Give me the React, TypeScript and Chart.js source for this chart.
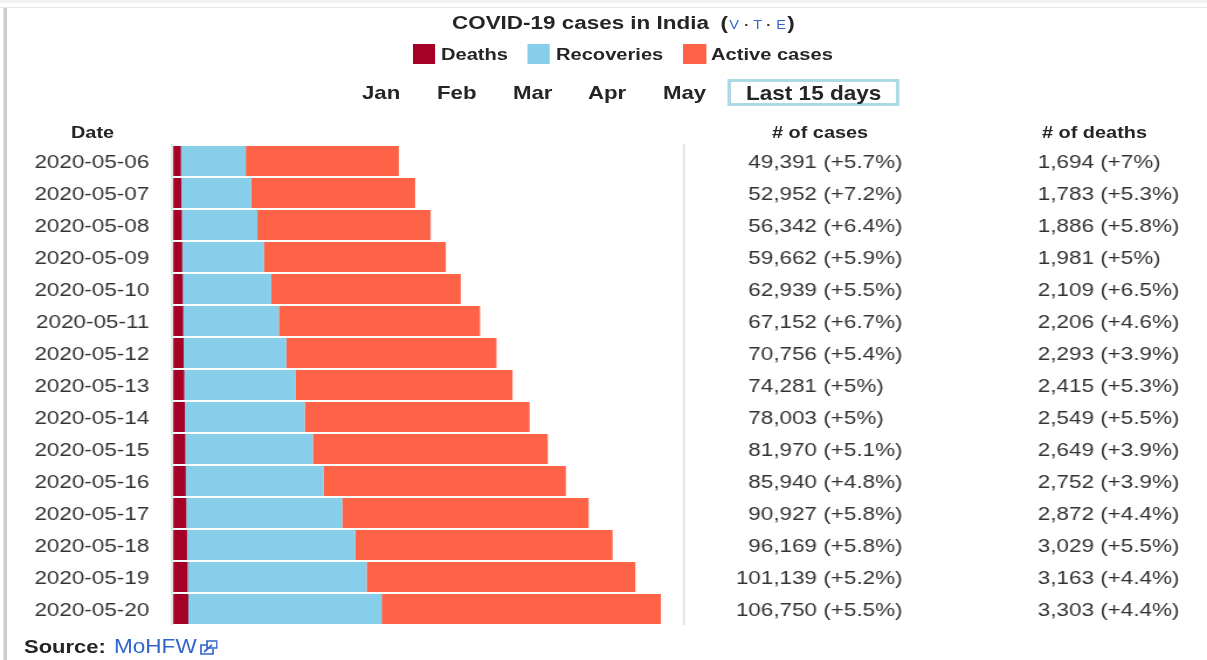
import React, { useEffect, useRef } from "react";
import { Chart, registerables } from "chart.js";

Chart.register(...registerables);

const dates = ["2020-05-06","2020-05-07","2020-05-08","2020-05-09","2020-05-10","2020-05-11","2020-05-12","2020-05-13","2020-05-14","2020-05-15","2020-05-16","2020-05-17","2020-05-18","2020-05-19","2020-05-20"];
const deaths = [1694,1783,1886,1981,2109,2206,2293,2415,2549,2649,2752,2872,3029,3163,3303];
const recoveries = [14183,15267,16540,17847,19358,20917,22455,24386,26235,27920,30153,34109,36824,39174,42298];
const activeCases = [33514,35902,37916,39834,41472,44029,46008,47480,49219,51401,53035,53946,56316,58802,61149];
const totalCases = [49391,52952,56342,59662,62939,67152,70756,74281,78003,81970,85940,90927,96169,101139,106750];
const casePct = ["+5.7%","+7.2%","+6.4%","+5.9%","+5.5%","+6.7%","+5.4%","+5%","+5%","+5.1%","+4.8%","+5.8%","+5.8%","+5.2%","+5.5%"];
const deathPct = ["+7%","+5.3%","+5.8%","+5%","+6.5%","+4.6%","+3.9%","+5.3%","+5.5%","+3.9%","+3.9%","+4.4%","+5.5%","+4.4%","+4.4%"];
const months = [["Jan", 362], ["Feb", 437], ["Mar", 513], ["Apr", 588], ["May", 663]] as const;

const FONT = '"Liberation Sans", Arial, sans-serif';
const INNER_W = 1032;
const S = 1207 / INNER_W;
const X = (px: number) => px / S;

const fmt = (n: number) => n.toLocaleString("en-US");

const columnsPlugin = {
  id: "columns",
  afterDraw(chart: any) {
    const { ctx, chartArea, scales } = chart;
    ctx.save();
    ctx.strokeStyle = "#cccccc";
    ctx.lineWidth = 1;
    ctx.beginPath();
    ctx.moveTo(chartArea.right, chartArea.top - 1);
    ctx.lineTo(chartArea.right, chartArea.bottom);
    ctx.moveTo(chartArea.left - X(1.2), chartArea.top - 1);
    ctx.lineTo(chartArea.left - X(1.2), chartArea.bottom);
    ctx.stroke();
    ctx.font = `19.2px ${FONT}`;
    ctx.fillStyle = "#333333";
    ctx.textAlign = "left";
    ctx.textBaseline = "middle";
    dates.forEach((_, i) => {
      const y = scales.y.getPixelForValue(i) + 1.4;
      const c = fmt(totalCases[i]);
      const d = fmt(deaths[i]);
      ctx.fillText(`${c} (${casePct[i]})`, X(817) - ctx.measureText(c).width, y);
      ctx.fillText(`${d} (${deathPct[i]})`, X(1094) - ctx.measureText(d).width, y);
    });
    ctx.restore();
  },
};

function Label(props: { x: number; y: number; size: number; bold?: boolean; color?: string; children: React.ReactNode }) {
  const { x, y, size, bold, color, children } = props;
  return (
    <div
      style={{
        position: "absolute",
        left: X(x),
        top: y - 15,
        lineHeight: "30px",
        height: 30,
        fontFamily: FONT,
        fontSize: size,
        fontWeight: bold ? 700 : 400,
        color: color || "#252525",
        whiteSpace: "nowrap",
      }}
    >
      {children}
    </div>
  );
}

function Swatch({ x, w, color }: { x: number; w: number; color: string }) {
  return <div style={{ position: "absolute", left: X(x), top: 44, width: X(w), height: 20, background: color }} />;
}

export default function App() {
  const ref = useRef<HTMLCanvasElement | null>(null);

  useEffect(() => {
    if (!ref.current) return;
    const chart = new Chart(ref.current, {
      type: "bar",
      data: {
        labels: dates,
        datasets: [
          { label: "Deaths", data: deaths, backgroundColor: "#A50026" },
          { label: "Recoveries", data: recoveries, backgroundColor: "#87CEEB" },
          { label: "Active cases", data: activeCases, backgroundColor: "#FF6347" },
        ],
      },
      options: {
        indexAxis: "y",
        responsive: false,
        animation: false,
        barPercentage: 0.94,
        categoryPercentage: 1,
        layout: { padding: { left: 0, right: INNER_W - X(684), top: 145, bottom: 35 } },
        plugins: { legend: { display: false }, title: { display: false }, tooltip: { enabled: false } },
        scales: {
          x: { stacked: true, display: false, min: 0, max: 111800 },
          y: {
            stacked: true,
            afterFit(scale: any) {
              scale.width = X(173.2);
            },
            grid: { display: false, drawTicks: false },
            border: { display: false },
            ticks: { padding: X(24), labelOffset: 1.4, color: "#333333", font: { family: FONT, size: 19.2 }, crossAlign: "near" },
          },
        },
      } as any,
      plugins: [columnsPlugin],
    });
    return () => chart.destroy();
  }, []);

  return (
    <div
      style={{
        position: "absolute",
        left: 0,
        top: 0,
        width: INNER_W,
        height: 660,
        overflow: "hidden",
        background: "#ffffff",
        transform: `scaleX(${S})`,
        transformOrigin: "0 0",
      }}
    >
      <canvas ref={ref} width={INNER_W} height={660} style={{ position: "absolute", left: 0, top: 0, display: "block" }} />

      <div style={{ position: "absolute", left: 0, top: 0, width: INNER_W, height: 3, background: "#f1f2f4" }} />
      <div style={{ position: "absolute", left: 0, top: 7, width: INNER_W, height: 1, background: "#e8e8e8" }} />
      <div style={{ position: "absolute", left: X(4), top: 8, width: X(2.5), height: 652, background: "#cccccc" }} />

      <Label x={452} y={23} size={19.2} bold>
        COVID-19 cases in India
        <span style={{ marginLeft: 10 }}>(</span>
        <span style={{ fontSize: 12.5, fontWeight: 400, color: "#3366cc", margin: "0 1px" }}>V</span>
        <span style={{ fontSize: 12.5, fontWeight: 700, color: "#252525" }}> · </span>
        <span style={{ fontSize: 12.5, fontWeight: 400, color: "#3366cc" }}>T</span>
        <span style={{ fontSize: 12.5, fontWeight: 700, color: "#252525" }}> · </span>
        <span style={{ fontSize: 12.5, fontWeight: 400, color: "#3366cc", margin: "0 1px" }}>E</span>
        <span>)</span>
      </Label>

      <Swatch x={413} w={22} color="#A50026" />
      <Label x={441} y={54} size={17.2} bold>Deaths</Label>
      <Swatch x={528} w={22} color="#87CEEB" />
      <Label x={556} y={54} size={17.2} bold>Recoveries</Label>
      <Swatch x={683} w={23} color="#FF6347" />
      <Label x={711} y={54} size={17.2} bold>Active cases</Label>

      {months.map(([m, x]) => (
        <Label key={m} x={x} y={93} size={19} bold>{m}</Label>
      ))}
      <div
        style={{
          position: "absolute",
          left: X(728),
          top: 79,
          width: X(171),
          height: 27,
          boxSizing: "border-box",
          border: "3px solid #ADD8E6",
        }}
      />
      <Label x={746} y={94} size={19.3} bold>Last 15 days</Label>

      <Label x={71} y={133} size={17} bold>Date</Label>
      <Label x={772} y={133} size={17} bold># of cases</Label>
      <Label x={1042} y={133} size={17} bold># of deaths</Label>

      <Label x={24} y={647} size={18.8} bold>Source:</Label>
      <Label x={114} y={647} size={19.3} color="#3366cc">MoHFW</Label>
      <svg
        style={{ position: "absolute", left: X(200), top: 640, width: X(18), height: 15 }}
        viewBox="0 0 18 15"
        preserveAspectRatio="none"
        fill="none"
        stroke="#3366cc"
        strokeWidth="1.7"
      >
        <path d="M13 9v5H1V5h6" />
        <path d="M7 1h10v7H7z" />
        <path d="M4 12l8-7" />
      </svg>
    </div>
  );
}
